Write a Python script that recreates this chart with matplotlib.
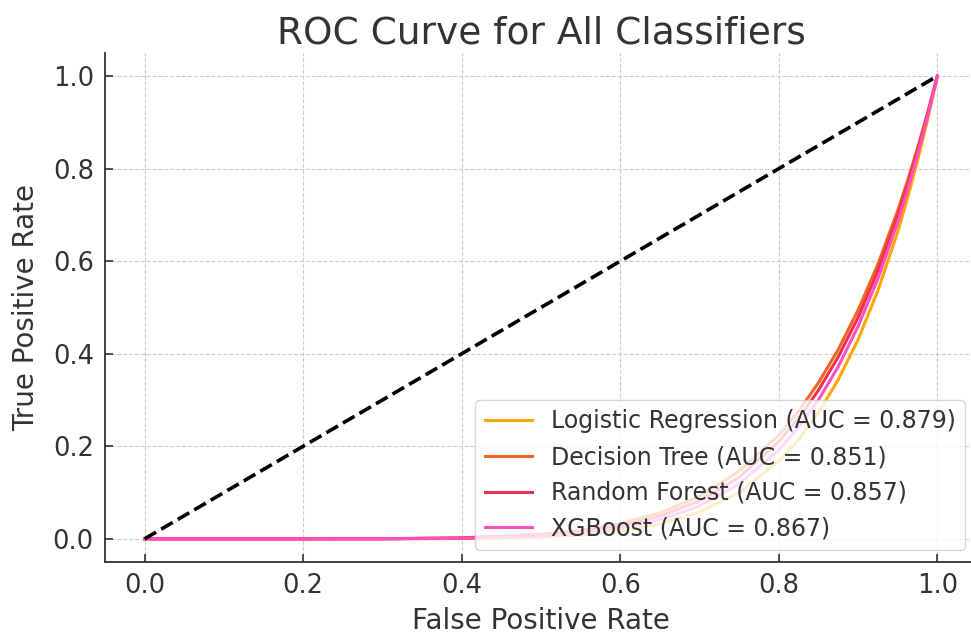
import numpy as np
import matplotlib
matplotlib.use("Agg")
import matplotlib.pyplot as plt

# FPR grid and TPR values
fpr = [0.0, 0.1, 0.2, 0.3, 0.4, 0.5, 0.55, 0.6, 0.65, 0.7, 0.75, 0.8, 0.825, 0.85, 0.875,
       0.9, 0.925, 0.95, 0.9625, 0.975, 0.9875, 1.0]
tpr_lr = [0.0, 0.0, 0.0, 0.0001, 0.0007, 0.004, 0.008, 0.017, 0.032, 0.058, 0.100, 0.168,
          0.214, 0.272, 0.344, 0.430, 0.536, 0.663, 0.736, 0.817, 0.904, 1.0]
tpr_dt = [0.0, 0.0, 0.0, 0.0003, 0.0022, 0.0096, 0.018, 0.033, 0.056, 0.092, 0.146, 0.224,
          0.276, 0.337, 0.409, 0.494, 0.593, 0.709, 0.774, 0.844, 0.919, 1.0]
tpr_rf = [0.0, 0.0, 0.0, 0.0002, 0.0016, 0.0078, 0.015, 0.028, 0.049, 0.082, 0.133, 0.210,
          0.260, 0.321, 0.393, 0.478, 0.579, 0.698, 0.765, 0.838, 0.916, 1.0]
tpr_xgb = [0.0, 0.0, 0.0, 0.0001, 0.0011, 0.0059, 0.012, 0.023, 0.041, 0.071, 0.119, 0.192,
           0.241, 0.300, 0.372, 0.459, 0.562, 0.684, 0.754, 0.829, 0.911, 1.0]

models = ["Logistic Regression", "Decision Tree", "Random Forest", "XGBoost"]
aucs = [0.879, 0.851, 0.857, 0.867]
colours = ["#FFA500", "#F26324", "#F0304F", "#FF4FC0"]

text_col = "#333333"

fig = plt.figure(figsize=(9.71, 6.36), dpi=100)
ax = fig.add_axes([0.1081, 0.1164, 0.898, 0.8003])

# One line per classifier
for tpr, name, auc, c in zip([tpr_lr, tpr_dt, tpr_rf, tpr_xgb], models, aucs, colours):
    ax.plot(fpr, tpr, color=c, linewidth=2.2, label="{0} (AUC = {1:.3f})".format(name, auc))

# Chance line
ax.plot([0, 1], [0, 1], color="black", linestyle="--", linewidth=2.6)

ax.set_xlim(-0.05, 1.05)
ax.set_ylim(-0.05, 1.05)
ax.set_xticks([0.0, 0.2, 0.4, 0.6, 0.8, 1.0])
ax.set_yticks([0.0, 0.2, 0.4, 0.6, 0.8, 1.0])

ax.grid(True, linestyle="--", color="#cccccc", linewidth=0.8)
ax.set_axisbelow(True)

for s in ["top", "right"]:
    ax.spines[s].set_visible(False)
for s in ["left", "bottom"]:
    ax.spines[s].set_color(text_col)
    ax.spines[s].set_linewidth(1.3)

ax.tick_params(direction="in", length=6, width=1.2, colors=text_col, labelsize=18.5, pad=8)

ax.set_title("ROC Curve for All Classifiers", fontsize=27, color=text_col, pad=7)
ax.set_xlabel("False Positive Rate", fontsize=20, color=text_col, labelpad=6)
ax.set_ylabel("True Positive Rate", fontsize=20, color=text_col, labelpad=9)

leg = ax.legend(loc="lower right", fontsize=17, framealpha=0.8, edgecolor="#cccccc")
for t in leg.get_texts():
    t.set_color(text_col)

plt.savefig("out.png", dpi=100)
